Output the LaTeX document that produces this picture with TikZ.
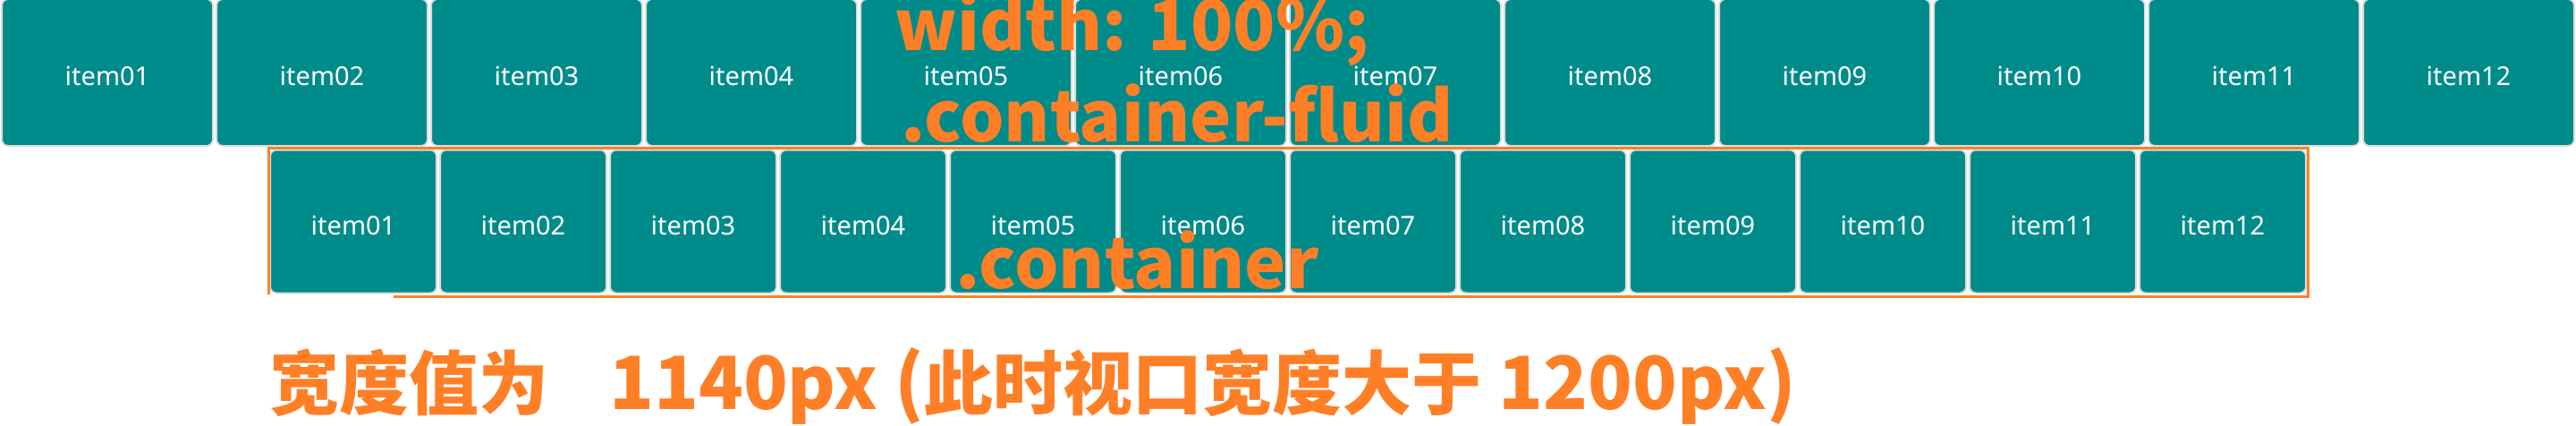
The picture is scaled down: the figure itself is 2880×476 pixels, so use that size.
\documentclass[tikz,border=0pt]{standalone}
\usepackage{fontspec}
\setmainfont{Noto Sans}
\newfontfamily\cjkfont{Noto Sans CJK SC}

\definecolor{tealbox}{RGB}{0,139,139}
\definecolor{hilite}{RGB}{255,127,39}
\definecolor{rim}{RGB}{221,221,221}

\tikzset{
  itembox/.style={draw=rim, line width=2pt, fill=tealbox, rounded corners=7pt,
    text=white, font=\fontsize{29}{29}\selectfont, text height=30pt, text depth=0pt, inner sep=0pt},
  fluidbox/.style={itembox, minimum width=236pt, minimum height=164pt},
  contbox/.style={itembox, minimum width=186pt, minimum height=160pt},
  bigtag/.style={text=hilite, font=\cjkfont\bfseries\fontsize{78}{78}\selectfont, inner sep=0pt, anchor=base west},
}

\begin{document}
\begin{tikzpicture}[x=1pt, y=-1pt]
\useasboundingbox (0,0) rectangle (2880,476);

\foreach \i in {1,...,12}
  \node[fluidbox] (fluid\i) at (240*\i-120, 81) {item\ifnum\i<10 0\fi\i};
\foreach \i in {1,...,12}
  \node[contbox] (cont\i) at (205+190*\i, 247.5) {item\ifnum\i<10 0\fi\i};

\draw[hilite, line width=3pt] (300,329) -- (300,165) -- (2580,165) -- (2580,331) -- (440,331);

\node[bigtag] (widthtag) at (1000,57) {width: 100\%;};
\node[bigtag] (fluidtag) at (1007,158) {.container-fluid};
\node[bigtag] (conttag) at (1068,322) {.container};

\node[bigtag, font=\cjkfont\bfseries] (note) at (301,457)
  {{\fontsize{78}{78}\selectfont 宽度值为}\hspace{68pt}{\fontsize{82}{82}\selectfont 1140px (}{\fontsize{78}{78}\selectfont 此时视口宽度大于}{\fontsize{82}{82}\selectfont{} 1200px)}};
\end{tikzpicture}
\end{document}
